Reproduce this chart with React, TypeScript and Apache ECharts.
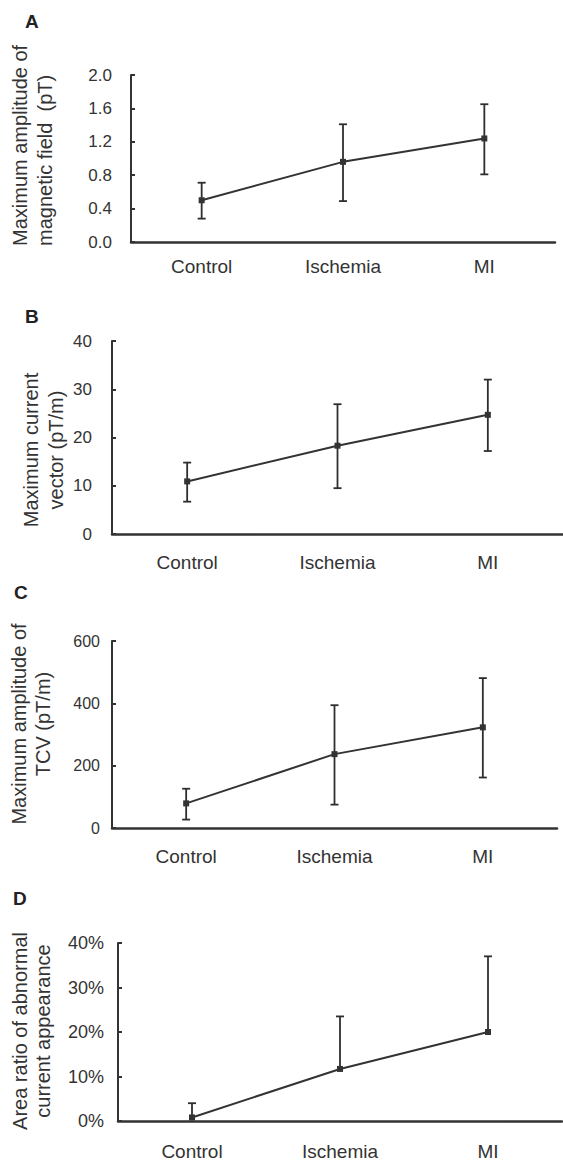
import React, { useEffect, useRef } from "react";
import * as echarts from "echarts";

const categories = ["Control", "Ischemia", "MI"];

// Panel A: maximum amplitude of magnetic field (pT)
const fieldMean = [0.5, 0.96, 1.24];
const fieldLow = [0.28, 0.49, 0.81];
const fieldHigh = [0.71, 1.41, 1.65];

// Panel B: maximum current vector (pT/m)
const currentMean = [10.9, 18.3, 24.7];
const currentLow = [6.7, 9.5, 17.2];
const currentHigh = [14.8, 26.9, 32.0];

// Panel C: maximum amplitude of TCV (pT/m)
const tcvMean = [79, 237, 323];
const tcvLow = [27, 75, 162];
const tcvHigh = [126, 394, 481];

// Panel D: area ratio of abnormal current appearance (%), upper error only
const areaMean = [0.8, 11.7, 20.0];
const areaHigh = [4.0, 23.5, 37.0];

const FONT = '"Liberation Sans", Arial, Helvetica, sans-serif';
const INK = "#333";

type Panel = {
  mean: number[];
  low: number[];
  high: number[];
  lowCap: boolean;
  grid: { left: number; top: number; width: number; height: number };
  yMax: number;
  yInterval: number;
  yFmt: (v: number) => string;
  tickFont: number;
  tickMargin: number;
  catMargin: number;
};

const panels: Panel[] = [
  {
    mean: fieldMean, low: fieldLow, high: fieldHigh, lowCap: true,
    grid: { left: 131, top: 75, width: 424, height: 167 },
    yMax: 2.0, yInterval: 0.4, yFmt: (v) => v.toFixed(1),
    tickFont: 17, tickMargin: 19, catMargin: 15,
  },
  {
    mean: currentMean, low: currentLow, high: currentHigh, lowCap: true,
    grid: { left: 112, top: 341, width: 451, height: 193 },
    yMax: 40, yInterval: 10, yFmt: (v) => String(v),
    tickFont: 17, tickMargin: 20, catMargin: 19,
  },
  {
    mean: tcvMean, low: tcvLow, high: tcvHigh, lowCap: true,
    grid: { left: 112, top: 641, width: 445, height: 187 },
    yMax: 600, yInterval: 200, yFmt: (v) => String(v),
    tickFont: 16, tickMargin: 12, catMargin: 19,
  },
  {
    mean: areaMean, low: areaMean, high: areaHigh, lowCap: false,
    grid: { left: 118, top: 943, width: 444, height: 178 },
    yMax: 40, yInterval: 10, yFmt: (v) => v + "%",
    tickFont: 18, tickMargin: 14, catMargin: 21,
  },
];

const yTitles = [
  { text: "Maximum amplitude of\nmagnetic field  (pT)", x: 32, y: 246, align: "left", lh: 25 },
  { text: "Maximum current\nvector (pT/m)", x: 43, y: 450, align: "center", lh: 25 },
  { text: "Maximum amplitude of\nTCV (pT/m)", x: 31, y: 724, align: "center", lh: 23.5 },
  { text: "Area ratio of abnormal\ncurrent appearance", x: 31, y: 1031, align: "center", lh: 23 },
];

const letters = [
  { text: "A", x: 25, y: 12 },
  { text: "B", x: 25, y: 307 },
  { text: "C", x: 14, y: 583 },
  { text: "D", x: 13, y: 889 },
];

function buildOption() {
  const grids: any[] = [];
  const xAxes: any[] = [];
  const yAxes: any[] = [];
  const series: any[] = [];

  panels.forEach((p, i) => {
    grids.push({ ...p.grid, containLabel: false, outerBoundsMode: "none" });
    xAxes.push({
      type: "value",
      gridIndex: i,
      min: -0.5,
      max: 2.5,
      interval: 0.5,
      axisLine: { show: true, onZero: false, lineStyle: { color: INK, width: 2.5 } },
      axisTick: { show: false },
      splitLine: { show: false },
      axisLabel: {
        margin: p.catMargin,
        color: INK,
        fontSize: 19,
        fontFamily: FONT,
        showMinLabel: true,
        showMaxLabel: true,
        formatter: (v: number) => (Number.isInteger(v) && categories[v] ? categories[v] : ""),
      },
    });
    yAxes.push({
      type: "value",
      gridIndex: i,
      min: 0,
      max: p.yMax,
      interval: p.yInterval,
      axisLine: { show: true, onZero: false, lineStyle: { color: INK, width: 2 } },
      axisTick: { show: true, inside: true, length: 4, lineStyle: { color: INK, width: 2 } },
      splitLine: { show: false },
      axisLabel: {
        margin: p.tickMargin,
        color: INK,
        fontSize: p.tickFont,
        fontFamily: FONT,
        formatter: (v: number) => p.yFmt(v),
      },
    });

    series.push({
      type: "custom",
      xAxisIndex: i,
      yAxisIndex: i,
      z: 3,
      data: p.mean.map((_, k) => [k, p.low[k], p.high[k], p.lowCap ? 1 : 0]),
      encode: { x: 0, y: [1, 2] },
      renderItem: (params: any, api: any) => {
        const x = api.value(0);
        const lo = api.coord([x, api.value(1)]);
        const hi = api.coord([x, api.value(2)]);
        const half = 4;
        const style = { stroke: "#2e2e2e", lineWidth: 1.8 };
        const children: any[] = [
          { type: "line", shape: { x1: hi[0], y1: hi[1], x2: lo[0], y2: lo[1] }, style },
          { type: "line", shape: { x1: hi[0] - half, y1: hi[1], x2: hi[0] + half, y2: hi[1] }, style },
        ];
        if (api.value(3) === 1) {
          children.push({
            type: "line",
            shape: { x1: lo[0] - half, y1: lo[1], x2: lo[0] + half, y2: lo[1] },
            style,
          });
        }
        return { type: "group", children };
      },
    });

    series.push({
      type: "line",
      xAxisIndex: i,
      yAxisIndex: i,
      z: 4,
      data: p.mean.map((m, k) => [k, m]),
      symbol: "rect",
      symbolSize: 6,
      itemStyle: { color: "#333" },
      lineStyle: { color: "#333", width: 2 },
    });
  });

  const graphic: any[] = [];
  letters.forEach((l) => {
    graphic.push({
      type: "text",
      x: l.x,
      y: l.y,
      style: {
        text: l.text,
        font: `bold 19px ${FONT}`,
        fill: "#222",
        textAlign: "left",
        align: "left",
        textVerticalAlign: "top",
        verticalAlign: "top",
      },
    });
  });
  yTitles.forEach((t) => {
    graphic.push({
      type: "text",
      x: t.x,
      y: t.y,
      rotation: Math.PI / 2,
      style: {
        text: t.text,
        font: `20px ${FONT}`,
        fill: INK,
        lineHeight: t.lh,
        textAlign: t.align,
        align: t.align,
        textVerticalAlign: "middle",
        verticalAlign: "middle",
      },
    });
  });

  return {
    animation: false,
    backgroundColor: "#ffffff",
    grid: grids,
    xAxis: xAxes,
    yAxis: yAxes,
    series,
    graphic,
  };
}

export default function App() {
  const ref = useRef<HTMLDivElement>(null);
  useEffect(() => {
    if (!ref.current) return;
    const chart = echarts.init(ref.current, undefined, { renderer: "svg" });
    chart.setOption(buildOption());
    return () => chart.dispose();
  }, []);
  return (
    <div
      ref={ref}
      style={{ position: "absolute", left: 0, top: 0, width: 563, height: 1162, background: "#fff" }}
    />
  );
}
